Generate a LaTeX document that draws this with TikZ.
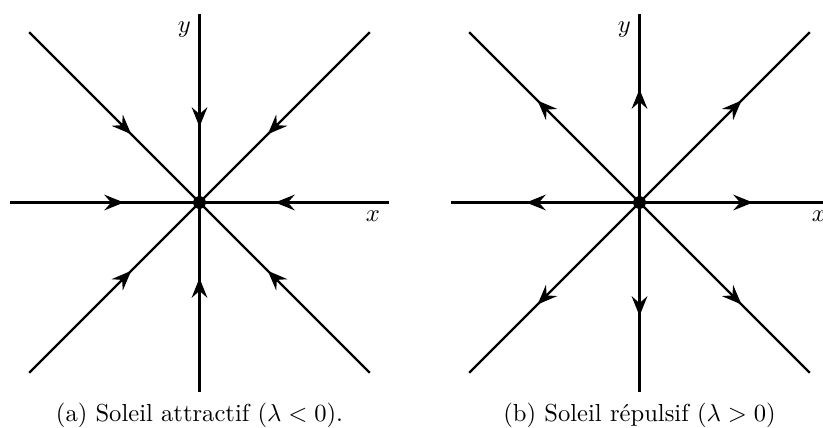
\documentclass[tikz,border=0pt]{standalone}
\usepackage{tikz}
\usetikzlibrary{arrows.meta}
\usetikzlibrary{decorations.markings}
\usetikzlibrary{calc}

\tikzset{
  flow/.style={line width=0.9pt, postaction={decorate},
    decoration={markings, mark=at position 0.6 with {\arrow{Stealth[length=8pt,width=6.4pt,inset=2.8pt]}}}},
  sundot/.style={circle, fill=black, inner sep=0pt, minimum size=5.2pt},
}

\begin{document}
\begin{tikzpicture}[scale=1]
\useasboundingbox (-2.85,-3.221) rectangle (8.907,2.893);
% (a) attractif
\coordinate (Oa) at (0,0);
\foreach \a/\r in {0/2.7,45/3.44,90/2.7,135/3.44,180/2.7,225/3.44,270/2.7,315/3.44}{
  \coordinate (a\a) at ($(Oa)+(\a:\r)$);
  \draw[flow] (a\a) -- (Oa);
}
\node[sundot] (dotA) at (Oa) {};
\node[below left] (ya) at (a90) {$y$};
\node[below left] (xa) at (a0) {$x$};
\node (capA) at (0,-3.036) {(a) Soleil attractif ($\lambda<0$).};
% (b) repulsif
\coordinate (Ob) at (6.286,0);
\foreach \a/\r in {0/2.7,45/3.44,90/2.7,135/3.44,180/2.7,225/3.44,270/2.7,315/3.44}{
  \coordinate (b\a) at ($(Ob)+(\a:\r)$);
  \draw[flow] (Ob) -- (b\a);
}
\node[sundot] (dotB) at (Ob) {};
\node[below left] (yb) at (b90) {$y$};
\node[below left,xshift=2.5pt] (xb) at (b0) {$x$};
\node (capB) at (6.286,-3.036) {(b) Soleil répulsif ($\lambda>0$)};
\end{tikzpicture}
\end{document}
